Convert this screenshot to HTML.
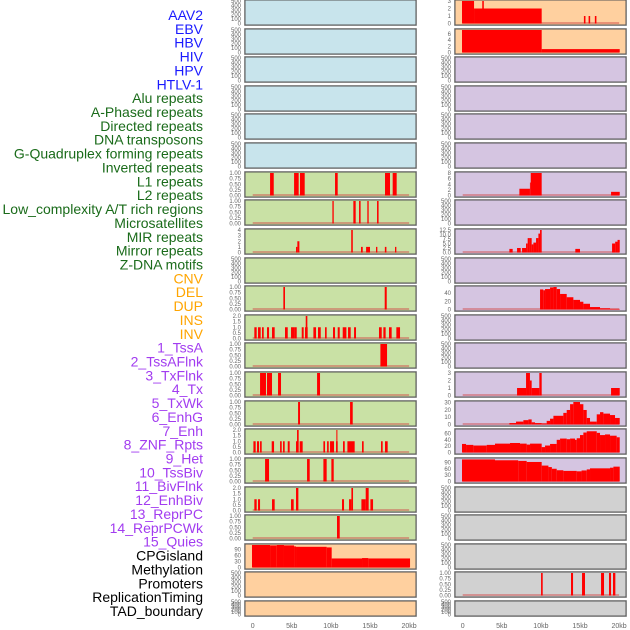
<!DOCTYPE html>
<html><head><meta charset="utf-8"><style>
html,body{margin:0;padding:0;background:#fff;}
svg{display:block;font-family:"Liberation Sans",sans-serif;}
</style></head><body>
<svg id="chart" width="630" height="630" viewBox="0 0 630 630" xmlns="http://www.w3.org/2000/svg"></svg>
<script>
const trackLabels = ["AAV2","EBV","HBV","HIV","HPV","HTLV-1","Alu repeats","A-Phased repeats","Directed repeats","DNA transposons","G-Quadruplex forming repeats","Inverted repeats","L1 repeats","L2 repeats","Low_complexity A/T rich regions","Microsatellites","MIR repeats","Mirror repeats","Z-DNA motifs","CNV","DEL","DUP","INS","INV","1_TssA","2_TssAFlnk","3_TxFlnk","4_Tx","5_TxWk","6_EnhG","7_Enh","8_ZNF_Rpts","9_Het","10_TssBiv","11_BivFlnk","12_EnhBiv","13_ReprPC","14_ReprPCWk","15_Quies","CPGisland","Methylation","Promoters","ReplicationTiming","TAD_boundary"];
const labelGroupSizes = [6,13,5,15,5];
const xTickValues = [0,5,10,15,20];
const xTickLabels = ["0","5kb","10kb","15kb","20kb"];
const emptyTicks = [0,100,200,300,400,500];

// Bars: [startKb, endKb, value]
const L7_bars = [[2.22,2.69,1],[5.29,5.88,1],[6.05,6.65,1],[10.53,10.87,1],[16.92,17.56,1],[17.9,18.41,1]];
const L8_bars = [[10.19,10.36,1],[12.87,13.17,1],[13.6,13.8,1],[14.66,14.83,1],[15.9,16.1,1]];
const L9_bars = [[5.54,5.71,1],[5.71,5.97,2],[12.6,12.8,4],[13.85,14.07,1],[14.5,15.0,1],[15.77,15.94,1],[16.9,17.1,1],[18.2,18.37,1]];
const L11_bars = [[3.92,4.13,1],[16.88,17.14,1]];
const L12_bars = [[0.21,0.51,1],[0.68,1.02,1],[1.19,1.41,1],[1.83,2.09,1],[2.47,2.81,1],[4.13,4.48,1],[4.9,5.33,1],[5.33,5.63,1],[6.27,6.52,1],[6.69,7.03,1],[6.78,6.99,2],[7.76,8.1,1],[8.35,8.7,1],[9.25,9.46,1],[10.27,10.53,1],[10.87,11.13,1],[11.51,11.98,1],[12.19,12.53,1],[12.96,13.21,1],[16.15,16.5,1],[16.71,17.0,1],[17.43,17.77,1],[18.37,18.84,1]];
const L13_bars = [[16.33,17.18,1]];
const L14_bars = [[0.94,1.7,1],[1.83,2.47,1],[3.24,3.62,1],[8.23,8.61,1]];
const L15_bars = [[5.8,6.05,1],[12.45,12.79,1]];
const L16_bars = [[0.09,0.38,1],[0.55,0.81,1],[0.94,1.15,1],[2.43,2.73,1],[3.5,3.71,1],[3.88,4.09,1],[4.48,4.73,1],[5.54,5.75,1],[5.67,5.88,2],[6.01,6.39,1],[9.04,9.25,1],[9.51,9.72,1],[9.89,10.4,1],[10.66,10.87,1],[10.7,10.83,2],[11.55,11.77,1],[12.11,13.04,1],[13.98,14.19,1],[16.41,16.62,1],[16.92,17.26,1]];
const L17_bars = [[1.58,2.09,1],[6.95,7.29,1],[9.04,9.46,1],[10.06,10.36,1]];
const L18_bars = [[0.21,0.51,1],[0.68,0.94,1],[2.47,2.81,1],[4.9,5.24,1],[5.54,5.84,2],[11.42,11.68,1],[12.32,12.62,1],[12.62,12.83,2],[13.9,14.45,1],[14.45,14.83,2],[15.05,15.39,1]];
const L19_bars = [[10.78,11.13,1]];
const L20_bars = [[-0.09,2.22,112],[2.22,3.07,110],[3.07,4.0,112],[4.0,5.29,110],[5.29,5.54,105],[5.54,9.46,103],[9.46,10.1,100],[10.1,13.98,45],[13.98,14.79,47],[14.79,20.12,45]];

const R1_bars = [[-0.09,1.45,3],[1.45,10.1,2],[2.5,2.7,3],[15.5,15.7,1],[16.1,16.3,1],[16.9,17.1,1]];
const R2_bars = [[-0.09,10.1,7.3],[10.1,20.08,1.1]];
const R7_bars = [[7.25,8.6,2.4],[8.6,8.7,4.6],[8.7,10.1,8],[18.97,20.08,1.3]];
const R9_bars = [[5.97,6.39,2],[6.95,7.42,2.5],[7.59,8.1,2.5],[8.1,8.31,5],[8.31,8.53,8],[8.53,8.82,8],[8.82,9.04,4.5],[9.04,9.38,5.5],[9.38,9.68,8],[9.68,9.89,10.5],[9.89,10.1,12.5],[14.4,15.0,2],[19.1,19.5,5],[19.5,19.8,6],[19.8,20.08,7]];
const R11_bars = [[9.89,10.3,49],[10.3,10.53,47],[10.53,11.17,50],[11.17,11.6,54],[11.6,12.02,55],[12.02,12.45,50],[12.45,13.3,38],[13.3,14.15,30],[14.15,15.0,23.5],[15.0,15.43,19],[15.43,16.28,14],[16.28,17.56,6],[17.56,18.84,3],[18.84,20.08,1.5]];
const R14_bars = [[6.95,8.1,1],[8.1,8.6,3],[8.6,8.82,2],[8.82,9.8,1],[9.8,10.1,3],[18.97,20.08,1]];
const R15_bars = [[5.97,6.82,2],[6.82,7.76,4],[7.76,8.4,6],[8.4,8.82,7],[8.82,9.25,3],[9.25,10.1,2],[10.1,10.74,1.5],[10.74,11.17,5],[11.17,11.6,8],[11.6,12.87,12],[12.87,13.3,16],[13.3,13.73,20],[13.73,14.15,28],[14.15,15.0,31],[15.0,15.43,28],[15.43,15.86,20],[15.86,16.28,9],[16.28,17.14,4],[17.14,17.56,14],[17.56,17.99,17],[17.99,18.84,15],[18.84,19.48,13],[19.48,20.08,9]];
const R16_bars = [[-0.09,0.43,27],[0.43,1.36,24],[1.36,3.07,22],[3.07,4.13,24],[4.13,6.05,28],[6.05,7.33,30],[7.33,8.18,28],[8.18,8.61,25],[8.61,10.1,28],[10.1,10.53,17],[10.53,11.17,22],[11.17,12.02,27],[12.02,12.45,40],[12.45,13.3,44],[13.3,13.73,42],[13.73,14.36,44],[14.36,14.58,40],[14.58,15.0,45],[15.0,15.43,55],[15.43,15.86,63],[15.86,17.14,67],[17.14,17.56,62],[17.56,18.2,55],[18.2,18.84,57],[18.84,19.69,53],[19.69,20.08,48]];
const R17_bars = [[-0.09,4.13,104],[4.13,7.1,100],[7.1,8.18,97],[8.18,10.1,92],[10.1,10.96,75],[10.96,11.4,68],[11.4,12.02,60],[12.02,12.87,53],[12.87,14.58,50],[14.58,15.2,48],[15.2,15.86,52],[15.86,16.28,57],[16.28,18.84,62],[18.84,19.27,65],[19.27,20.08,70]];
const R21_bars = [[10.02,10.23,1],[13.85,14.11,1],[15.26,15.64,1],[17.69,18.07,1],[18.71,18.97,1],[19.22,19.52,1]];

const ticks01 = [0,0.25,0.5,0.75,1];
const ticks02 = [0,0.5,1,1.5,2];

const BLUE="#c8e4ec", GREEN="#c9e1a5", ORANGE="#ffd09f", PURPLE="#d5c5e1", GREY="#d1d1d1";
const leftPanels = [
 {bg:BLUE},{bg:BLUE},{bg:BLUE},{bg:BLUE},{bg:BLUE},{bg:BLUE},
 {bg:GREEN,bars:L7_bars,max:1,ticks:ticks01,dec:2},
 {bg:GREEN,bars:L8_bars,max:1,ticks:ticks01,dec:2},
 {bg:GREEN,bars:L9_bars,max:4,ticks:[0,1,2,3,4],dec:0},
 {bg:GREEN},
 {bg:GREEN,bars:L11_bars,max:1,ticks:ticks01,dec:2},
 {bg:GREEN,bars:L12_bars,max:2,ticks:ticks02,dec:1},
 {bg:GREEN,bars:L13_bars,max:1,ticks:ticks01,dec:2},
 {bg:GREEN,bars:L14_bars,max:1,ticks:ticks01,dec:2},
 {bg:GREEN,bars:L15_bars,max:1,ticks:ticks01,dec:2},
 {bg:GREEN,bars:L16_bars,max:2,ticks:ticks02,dec:1},
 {bg:GREEN,bars:L17_bars,max:1,ticks:ticks01,dec:2},
 {bg:GREEN,bars:L18_bars,max:2,ticks:ticks02,dec:1},
 {bg:GREEN,bars:L19_bars,max:1,ticks:ticks01,dec:2},
 {bg:ORANGE,bars:L20_bars,max:112,ticks:[0,30,60,90],dec:0},
 {bg:ORANGE},{bg:ORANGE}
];
const rightPanels = [
 {bg:ORANGE,bars:R1_bars,max:3,ticks:[0,1,2,3],dec:0},
 {bg:ORANGE,bars:R2_bars,max:7.3,ticks:[0,2,4,6],dec:0},
 {bg:PURPLE},{bg:PURPLE},{bg:PURPLE},{bg:PURPLE},
 {bg:PURPLE,bars:R7_bars,max:8,ticks:[0,2,4,6,8],dec:0},
 {bg:PURPLE},
 {bg:PURPLE,bars:R9_bars,max:12.5,ticks:[0,2.5,5,7.5,10,12.5],dec:1},
 {bg:PURPLE},
 {bg:PURPLE,bars:R11_bars,max:55,ticks:[0,20,40],dec:0},
 {bg:PURPLE},{bg:PURPLE},
 {bg:PURPLE,bars:R14_bars,max:3,ticks:[0,1,2,3],dec:0},
 {bg:PURPLE,bars:R15_bars,max:31,ticks:[0,10,20,30],dec:0},
 {bg:PURPLE,bars:R16_bars,max:71,ticks:[0,20,40,60],dec:0},
 {bg:PURPLE,bars:R17_bars,max:106,ticks:[0,30,60,90],dec:0},
 {bg:GREY},{bg:GREY},{bg:GREY},
 {bg:GREY,bars:R21_bars,max:1,ticks:ticks01,dec:2},
 {bg:GREY}
];

const NS="http://www.w3.org/2000/svg";
const svg=document.getElementById('chart');
function mk(tag,attrs,parent){const e=document.createElementNS(NS,tag);for(const k in attrs)e.setAttribute(k,attrs[k]);(parent||svg).appendChild(e);return e;}

// labels
const groupColors=["#1a1aff","#1a6b1a","#ffa500","#a23cf0","#000000"];
let li=0;
labelGroupSizes.forEach((n,g)=>{for(let j=0;j<n;j++){
  const t=mk('text',{x:203,y:(15+li*13.86+5).toFixed(1),'text-anchor':'end','font-size':'14',fill:groupColors[g]});
  t.textContent=trackLabels[li];
  
  
  li++;}});

function xScale(col,kb){return (col===0?252.7:462.7)+kb*7.82;}

function drawPanel(p,col,row){
  const x0=col===0?245:455, x1=col===0?416:626;
  const top=Math.round(row*28.62);
  const h=row===21?15:25;
  const bottom=top+h;
  const g=mk('g',{});
  
  
  mk('rect',{x:x0-0.5,y:top-0.5,width:x1-x0+1,height:h+1,fill:'none',stroke:'#bbb','stroke-width':1},g);
  mk('rect',{x:x0,y:top,width:x1-x0,height:h,fill:p.bg,stroke:'#555','stroke-width':1},g);
  const y0=bottom-1.5, yTop=top+1;
  const tickX=col===0?241:451;
  if(!p.bars){
    const ys=v=>y0-(v/500)*(y0-yTop);
    emptyTicks.forEach(v=>{const t=mk('text',{x:tickX,y:(ys(v)+2).toFixed(1),'text-anchor':'end','font-size':'6',fill:'#666'},g);t.textContent=String(v);
      
      });
    return;
  }
  const ys=v=>y0-(v/p.max)*(y0-yTop);
  p.ticks.forEach(v=>{const t=mk('text',{x:tickX,y:(ys(v)+2).toFixed(1),'text-anchor':'end','font-size':'6',fill:'#666'},g);t.textContent=v.toFixed(p.dec);
    
    });
  const bl=mk('line',{x1:xScale(col,0),x2:xScale(col,20),y1:y0-0.5,y2:y0-0.5,stroke:'rgba(210,70,70,0.6)','stroke-width':1.5},g);
  
  
  p.bars.forEach(b=>{
    const xa=xScale(col,b[0]), xb=xScale(col,b[1]), yv=ys(b[2]);
    const r=mk('rect',{x:xa.toFixed(2),y:yv.toFixed(2),width:Math.max(0.8,xb-xa).toFixed(2),height:Math.max(0,y0-yv).toFixed(2),fill:'#ff0000'},g);
    
    
  });
}
leftPanels.forEach((p,i)=>drawPanel(p,0,i));
rightPanels.forEach((p,i)=>drawPanel(p,1,i));

// x axes
[0,1].forEach(col=>{
  xTickValues.forEach((v,i)=>{
    const t=mk('text',{x:xScale(col,v).toFixed(1),y:628,'text-anchor':'middle','font-size':'7',fill:'#666'});
    t.textContent=xTickLabels[i];
    
    
  });
});
</script>
</body></html>
